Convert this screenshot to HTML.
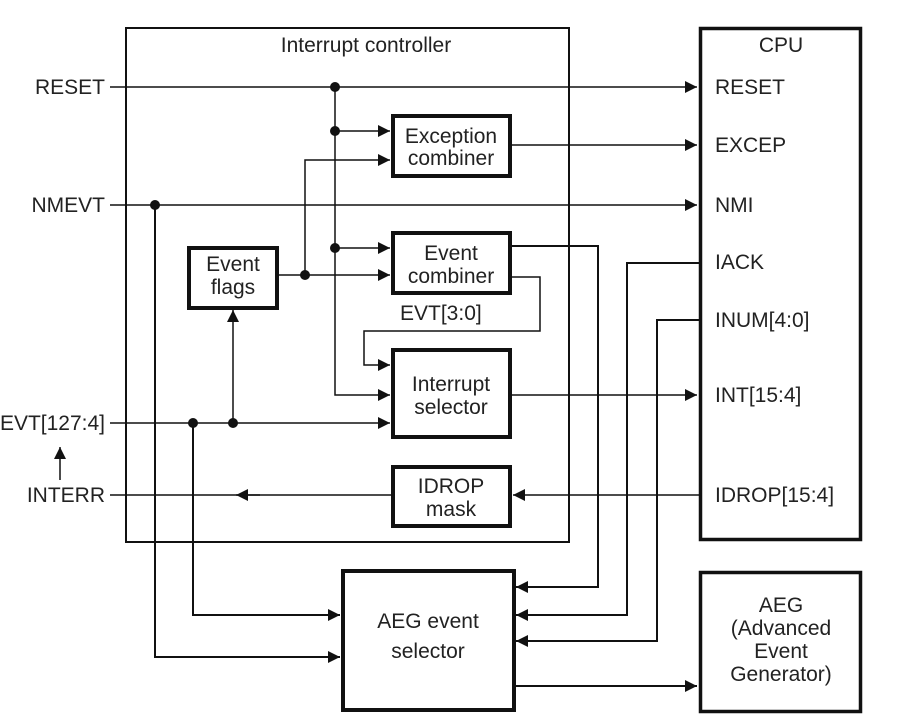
<!DOCTYPE html>
<html><head><style>body{margin:0;background:#fff}svg{display:block}text{font-family:"Liberation Sans",Arial,sans-serif;font-size:21px;fill:#222}</style></head>
<body>
<svg width="901" height="728" viewBox="0 0 901 728" xmlns="http://www.w3.org/2000/svg">
<defs>
<marker id="a" viewBox="0 0 10 10" refX="10" refY="5" markerWidth="12" markerHeight="12" markerUnits="userSpaceOnUse" orient="auto"><path d="M0,0L10,5L0,10z" fill="#111"/></marker>
</defs>
<g fill="none" stroke="#111">
<rect x="126" y="28" width="443" height="514" stroke-width="2"/>
<rect x="700.5" y="28.5" width="160" height="511" stroke-width="3.5"/>
<rect x="700.5" y="572.5" width="160" height="139" stroke-width="3.5"/>
<rect x="343" y="571" width="171" height="139" stroke-width="4"/>
<rect x="393" y="116" width="117" height="60" stroke-width="4"/>
<rect x="393" y="233" width="117" height="60" stroke-width="4"/>
<rect x="189" y="248" width="88" height="60" stroke-width="4"/>
<rect x="393" y="350" width="117" height="87" stroke-width="4"/>
<rect x="393" y="467" width="117" height="59" stroke-width="4"/>
</g>
<g fill="none" stroke="#111" stroke-width="1.5">
<path d="M110 87H697" marker-end="url(#a)"/>
<path d="M335 87V395H390" marker-end="url(#a)"/>
<path d="M335 131H390" marker-end="url(#a)"/>
<path d="M335 248H390" marker-end="url(#a)"/>
<path d="M305 275V160H390" marker-end="url(#a)"/>
<path d="M278 275H390" marker-end="url(#a)"/>
<path d="M510 145H697" marker-end="url(#a)"/>
<path d="M110 205H697" marker-end="url(#a)"/>
<path d="M155 205V657H340" marker-end="url(#a)" stroke-width="2"/>
<path d="M510 246H598V587H516" marker-end="url(#a)" stroke-width="2"/>
<path d="M510 277H540V331H364V365H390" marker-end="url(#a)"/>
<path d="M510 395H697" marker-end="url(#a)"/>
<path d="M110 423H390" marker-end="url(#a)"/>
<path d="M233 423V310" marker-end="url(#a)"/>
<path d="M193 423V615H340" marker-end="url(#a)" stroke-width="2"/>
<path d="M700 263H627V615H516" marker-end="url(#a)" stroke-width="2"/>
<path d="M700 320H657V641H516" marker-end="url(#a)" stroke-width="2"/>
<path d="M700 495H513" marker-end="url(#a)"/>
<path d="M393 495H110"/>
<path d="M260 495H236" marker-end="url(#a)"/>
<path d="M514 686H697" marker-end="url(#a)" stroke-width="2"/>
<path d="M60 480V447" marker-end="url(#a)"/>
</g>
<g fill="#111">
<circle cx="335" cy="87" r="5"/><circle cx="335" cy="131" r="5"/><circle cx="335" cy="248" r="5"/>
<circle cx="305" cy="275" r="5"/><circle cx="155" cy="205" r="5"/>
<circle cx="193" cy="423" r="5"/><circle cx="233" cy="423" r="5"/>
</g>
<g text-anchor="end">
<text x="105" y="94">RESET</text>
<text x="105" y="212">NMEVT</text>
<text x="105" y="430">EVT[127:4]</text>
<text x="105" y="502">INTERR</text>
</g>
<g>
<text x="715" y="94">RESET</text>
<text x="715" y="152">EXCEP</text>
<text x="715" y="212">NMI</text>
<text x="715" y="269">IACK</text>
<text x="715" y="327">INUM[4:0]</text>
<text x="715" y="402">INT[15:4]</text>
<text x="715" y="502">IDROP[15:4]</text>
<text x="400" y="320">EVT[3:0]</text>
</g>
<g text-anchor="middle">
<text x="366" y="52">Interrupt controller</text>
<text x="781" y="52">CPU</text>
<text x="451" y="143">Exception</text><text x="451" y="165">combiner</text>
<text x="451" y="260">Event</text><text x="451" y="283">combiner</text>
<text x="233" y="271">Event</text><text x="233" y="294">flags</text>
<text x="451" y="391">Interrupt</text><text x="451" y="414">selector</text>
<text x="451" y="493">IDROP</text><text x="451" y="516">mask</text>
<text x="428" y="628">AEG event</text><text x="428" y="658">selector</text>
<text x="781" y="612">AEG</text><text x="781" y="635">(Advanced</text><text x="781" y="658">Event</text><text x="781" y="681">Generator)</text>
</g>
</svg>
</body></html>
